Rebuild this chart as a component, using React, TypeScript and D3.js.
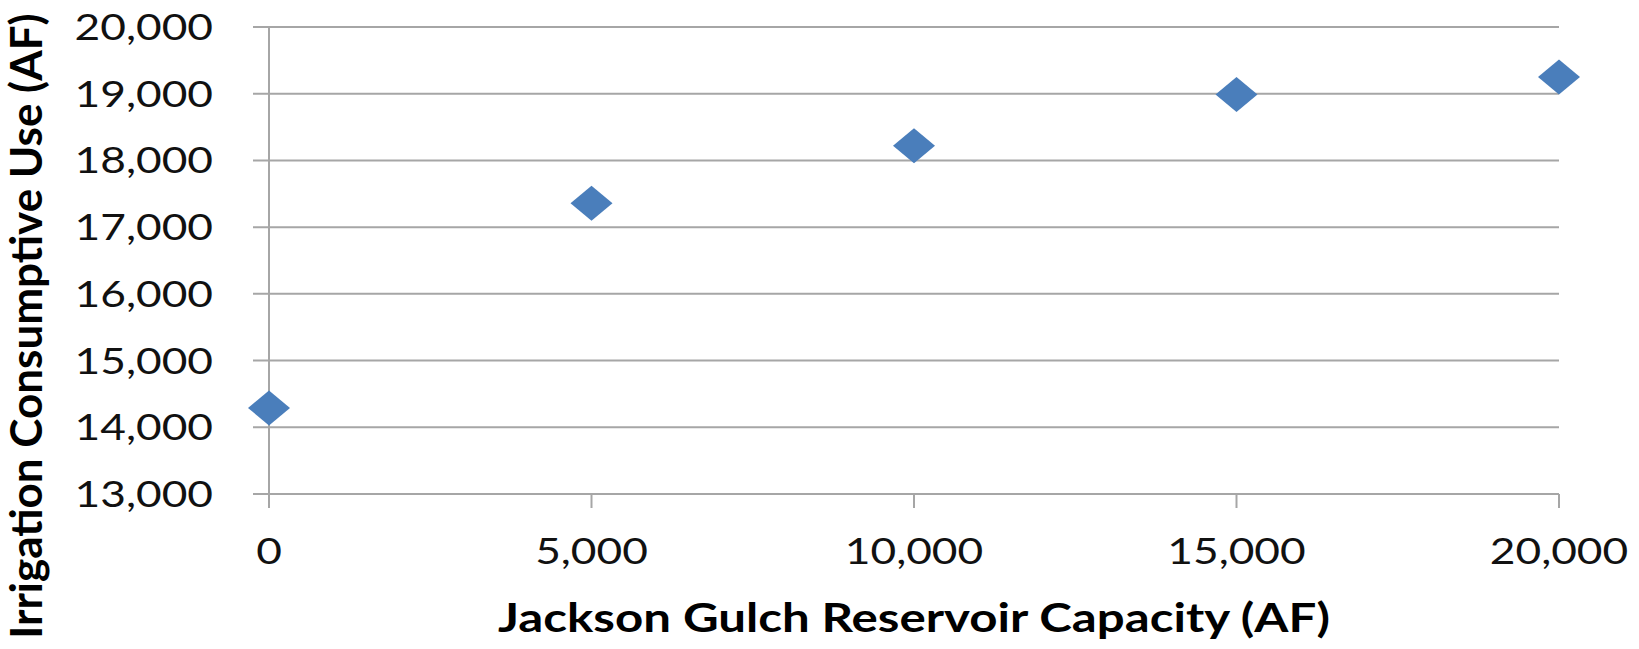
import React from 'react';
import * as d3 from 'd3';

const xValues: number[] = [0, 5000, 10000, 15000, 20000];
const yValues: number[] = [14290, 17360, 18220, 18990, 19250];
const xTicks: number[] = [0, 5000, 10000, 15000, 20000];
const yTicks: number[] = [13000, 14000, 15000, 16000, 17000, 18000, 19000, 20000];
const xTitle = 'Jackson Gulch Reservoir Capacity (AF)';
const yTitle = 'Irrigation Consumptive Use (AF)';

const W = 1639;
const H = 649;
const PL = 269, PR = 1559, PT = 27, PB = 494;
const SX = 1.23;
const FONT = 'Lato, "Open Sans", sans-serif';
const GRID = '#a6a6a6';
const MARK = '#4a7ebb';

export default function App() {
  const x = d3.scaleLinear().domain([0, 20000]).range([PL, PR]);
  const y = d3.scaleLinear().domain([13000, 20000]).range([PB, PT]);
  const fmt = d3.format(',');
  const diamond = (cx: number, cy: number) => {
    const hw = 21, hh = 17.5;
    const p = d3.path();
    p.moveTo(cx, cy - hh);
    p.lineTo(cx + hw, cy);
    p.lineTo(cx, cy + hh);
    p.lineTo(cx - hw, cy);
    p.closePath();
    return p.toString();
  };
  return (
    <svg width={W} height={H} style={{ position: 'absolute', left: 0, top: 0, background: '#fff' }}>
      <rect x={0} y={0} width={W} height={H} fill="#fff" />
      {yTicks.map((t) => (
        <line key={'g' + t} x1={PL - 16} x2={PR} y1={y(t)} y2={y(t)} stroke={GRID} strokeWidth={2} />
      ))}
      <line x1={PL} x2={PL} y1={PT} y2={PB + 14} stroke={GRID} strokeWidth={2} />
      {xTicks.map((t) => (
        <line key={'xt' + t} x1={x(t)} x2={x(t)} y1={PB} y2={PB + 14} stroke={GRID} strokeWidth={2} />
      ))}
      {yTicks.map((t) => (
        <text key={'yl' + t} transform={`translate(${213},${y(t) + 13}) scale(${SX},1)`} textAnchor="end"
          fontFamily={FONT} fontSize={36} fill="#111">{fmt(t)}</text>
      ))}
      {xTicks.map((t) => (
        <text key={'xl' + t} transform={`translate(${x(t)},${564}) scale(${SX},1)`} textAnchor="middle"
          fontFamily={FONT} fontSize={36} fill="#111">{fmt(t)}</text>
      ))}
      <text transform={`translate(${(PL + PR) / 2},${632}) scale(${SX},1)`} textAnchor="middle"
        fontFamily={FONT} fontSize={40} fontWeight="bold" fill="#000">{xTitle}</text>
      <text transform={`translate(${42},${326}) scale(1.0,1) rotate(-90)`} textAnchor="middle"
        fontFamily={FONT} fontSize={44} fontWeight="bold" fill="#000">{yTitle}</text>
      {xValues.map((v, i) => (
        <path key={'m' + i} d={diamond(x(v), y(yValues[i]))} fill={MARK} />
      ))}
    </svg>
  );
}
